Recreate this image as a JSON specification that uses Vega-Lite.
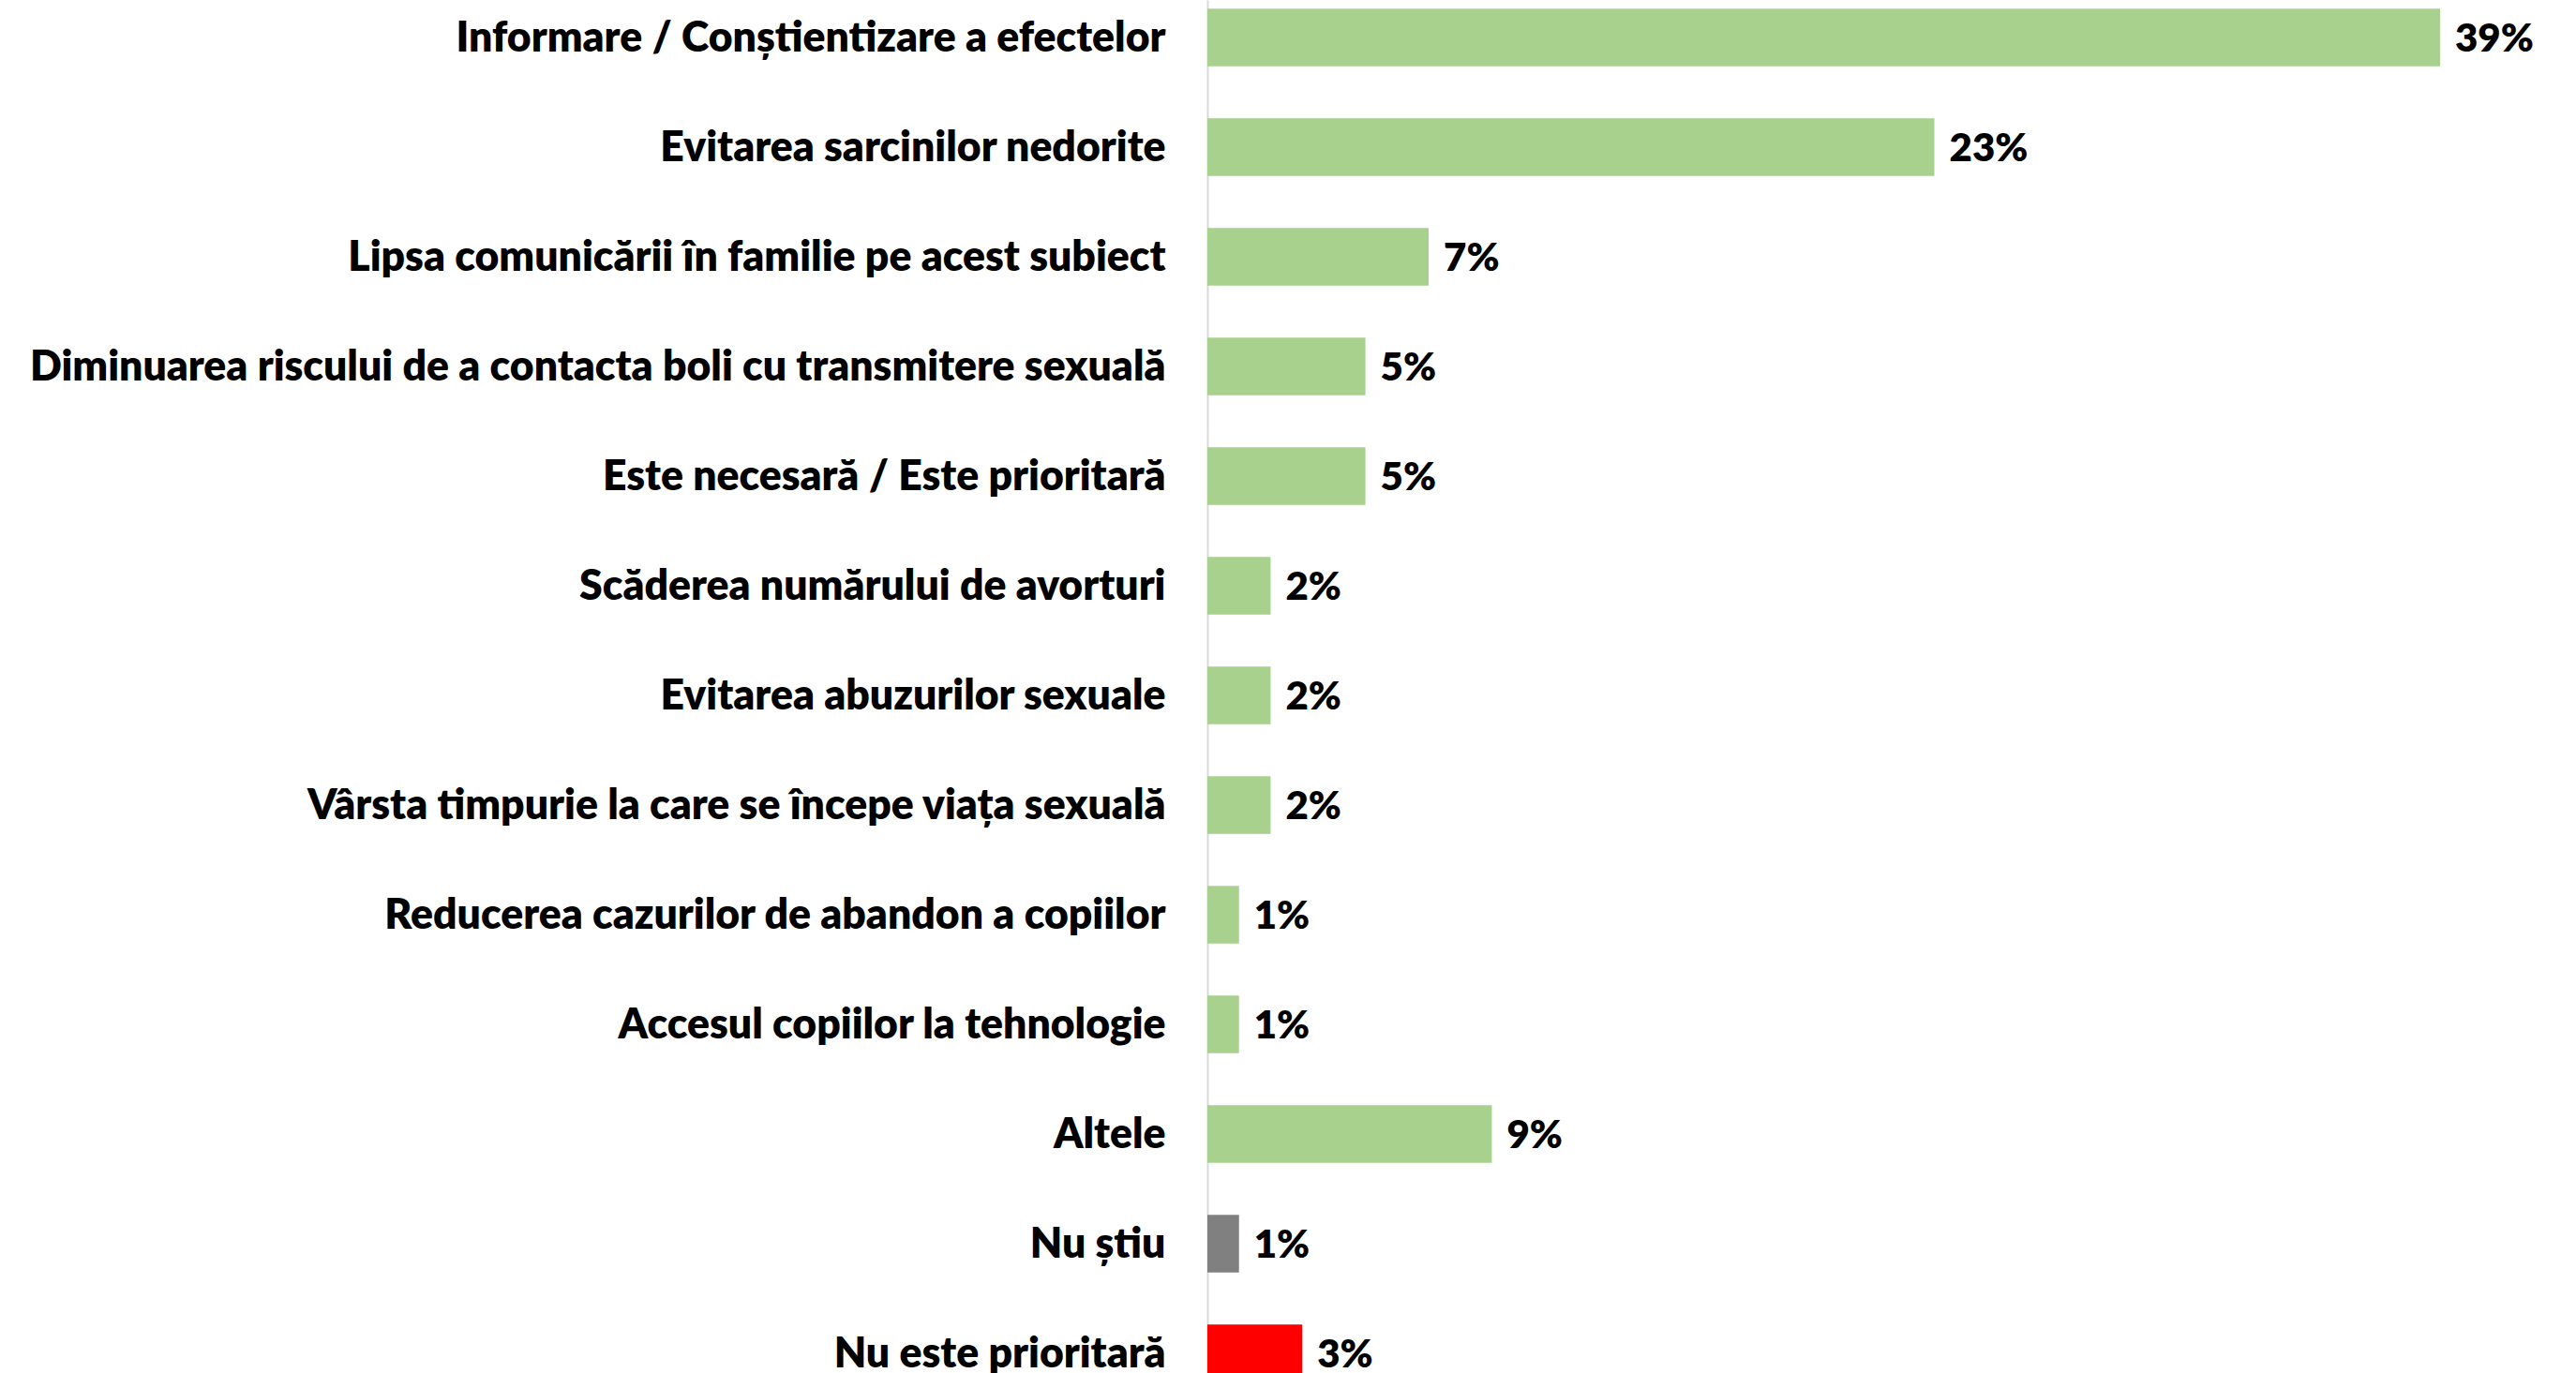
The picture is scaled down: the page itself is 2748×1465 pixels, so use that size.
{
  "$schema": "https://vega.github.io/schema/vega-lite/v6.json",
  "width": 1460,
  "height": 1465,
  "autosize": {"type": "none"},
  "padding": {"left": 1288, "top": 0, "right": 0, "bottom": 0},
  "background": "white",
  "config": {"view": {"stroke": null}, "font": "Lato"},
  "data": {
    "values": [
      {"categorie": "Informare / Conștientizare a efectelor", "procent": 0.39, "grup": "motiv"},
      {"categorie": "Evitarea sarcinilor nedorite", "procent": 0.23, "grup": "motiv"},
      {"categorie": "Lipsa comunicării în familie pe acest subiect", "procent": 0.07, "grup": "motiv"},
      {"categorie": "Diminuarea riscului de a contacta boli cu transmitere sexuală", "procent": 0.05, "grup": "motiv"},
      {"categorie": "Este necesară / Este prioritară", "procent": 0.05, "grup": "motiv"},
      {"categorie": "Scăderea numărului de avorturi", "procent": 0.02, "grup": "motiv"},
      {"categorie": "Evitarea abuzurilor sexuale", "procent": 0.02, "grup": "motiv"},
      {"categorie": "Vârsta timpurie la care se începe viața sexuală", "procent": 0.02, "grup": "motiv"},
      {"categorie": "Reducerea cazurilor de abandon a copiilor", "procent": 0.01, "grup": "motiv"},
      {"categorie": "Accesul copiilor la tehnologie", "procent": 0.01, "grup": "motiv"},
      {"categorie": "Altele", "procent": 0.09, "grup": "motiv"},
      {"categorie": "Nu știu", "procent": 0.01, "grup": "nu stiu"},
      {"categorie": "Nu este prioritară", "procent": 0.03, "grup": "nu"}
    ]
  },
  "encoding": {
    "y": {
      "field": "categorie",
      "type": "nominal",
      "sort": null,
      "scale": {"range": [0, 1484], "paddingInner": 0.474, "paddingOuter": 0.079},
      "axis": {
        "title": null,
        "ticks": false,
        "tickSize": 0,
        "labelPadding": 45,
        "labelOffset": 2,
        "labelFont": "Lato",
        "labelFontSize": 44.5,
        "labelFontWeight": 800,
        "labelColor": "#000000",
        "labelLimit": 1300,
        "domainColor": "#d9d9d9",
        "domainWidth": 2
      }
    },
    "x": {
      "field": "procent",
      "type": "quantitative",
      "scale": {"domain": [0, 0.433]},
      "axis": null
    }
  },
  "layer": [
    {
      "mark": {"type": "bar"},
      "encoding": {
        "color": {
          "field": "grup",
          "type": "nominal",
          "scale": {"domain": ["motiv", "nu stiu", "nu"], "range": ["#A9D18E", "#808080", "#FF0000"]},
          "legend": null
        }
      }
    },
    {
      "mark": {"type": "text", "align": "left", "baseline": "middle", "dx": 16, "dy": 2, "font": "Lato", "fontSize": 42, "fontWeight": 800, "color": "#000000"},
      "encoding": {"text": {"field": "procent", "type": "quantitative", "format": ".0%"}}
    }
  ]
}
